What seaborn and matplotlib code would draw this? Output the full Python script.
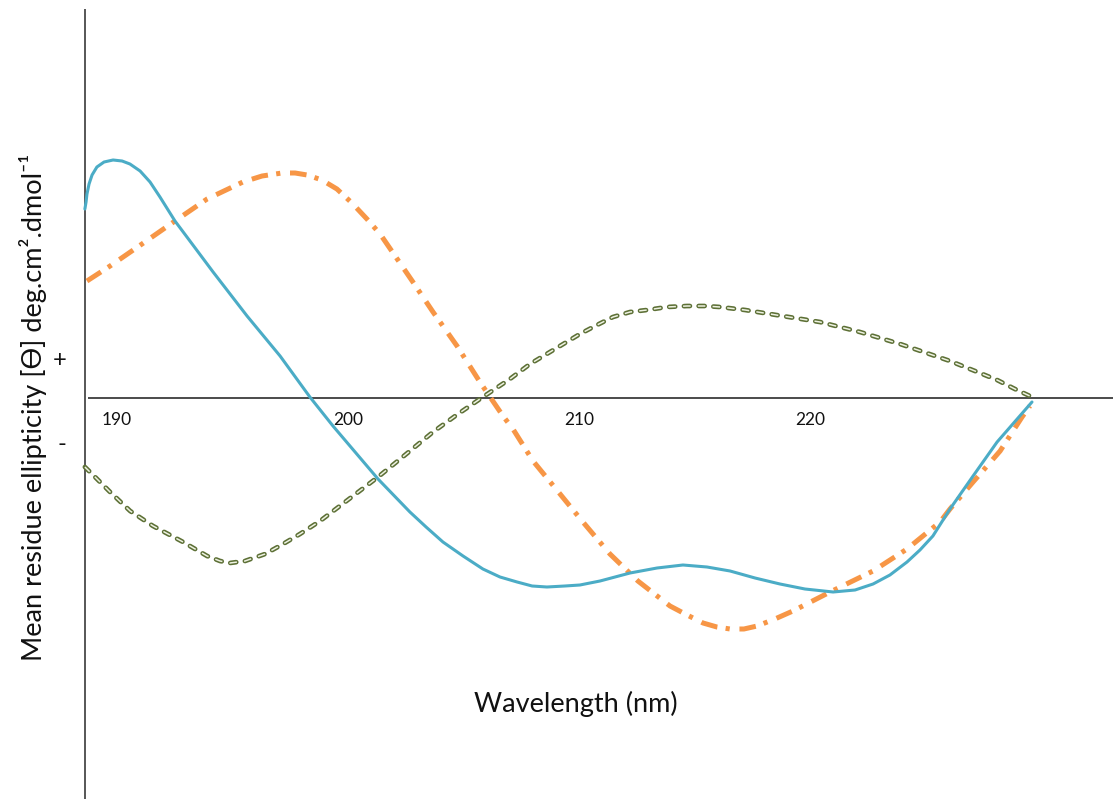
import matplotlib
matplotlib.use("Agg")
import matplotlib.pyplot as plt
import seaborn as sns
import pandas as pd

# ---- data (arbitrary ellipticity units) ----
blue_nm = [188.61, 188.66, 188.70, 188.79, 188.92, 189.13, 189.44, 189.83, 190.22,
           190.56, 191.00, 191.43, 191.86, 192.51, 194.16, 195.63, 197.06, 198.35,
           199.35, 201.30, 202.68, 203.38, 204.11, 204.98, 205.84, 206.58, 207.32,
           207.97, 208.61, 209.39, 210.04, 210.91, 212.21, 213.38, 214.50, 215.54,
           216.54, 217.62, 218.70, 219.78, 221.00, 221.95, 222.73, 223.46, 224.20,
           224.76, 225.32, 226.06, 227.06, 228.10, 229.61]
blue_val = [18.9, 19.6, 20.4, 21.4, 22.3, 23.1, 23.6, 23.8, 23.7,
            23.4, 22.7, 21.6, 20.1, 17.7, 12.6, 8.2, 4.2, 0.1,
            -2.8, -8.1, -11.4, -12.9, -14.4, -15.8, -17.1, -17.9, -18.4,
            -18.8, -18.9, -18.8, -18.7, -18.3, -17.5, -17.0, -16.7, -16.9,
            -17.3, -18.0, -18.6, -19.1, -19.4, -19.2, -18.6, -17.7, -16.4,
            -15.2, -13.8, -11.1, -7.8, -4.4, -0.4]

orange_nm = [188.70, 189.70, 191.08, 192.51, 193.90, 195.45, 196.28, 197.14, 197.71,
             198.23, 198.87, 199.52, 200.17, 200.82, 201.39, 202.81, 203.68, 204.72,
             205.71, 206.15, 206.71, 207.14, 208.01, 209.18, 210.17, 211.34, 212.55,
             213.94, 214.68, 215.37, 215.97, 216.54, 217.14, 217.71, 218.48, 219.26,
             220.87, 222.73, 224.20, 225.63, 226.06, 227.06, 228.23, 229.18, 229.52]
orange_val = [11.7, 13.2, 15.4, 17.7, 19.9, 21.6, 22.2, 22.5, 22.5,
              22.3, 21.8, 20.9, 19.5, 17.9, 16.4, 11.6, 8.6, 5.2,
              1.6, 0.1, -1.8, -3.1, -6.3, -9.6, -12.4, -15.6, -18.3,
              -20.8, -21.7, -22.5, -22.9, -23.1, -23.1, -22.8, -22.1, -21.3,
              -19.4, -17.3, -15.1, -12.4, -11.1, -8.4, -5.3, -1.9, -0.8]

green_nm = [188.61, 189.05, 189.70, 190.57, 191.56, 192.86, 193.90, 194.46, 194.89,
            195.54, 196.41, 197.19, 197.92, 198.79, 201.30, 202.47, 203.68, 204.76,
            205.84, 207.01, 207.88, 208.96, 210.04, 210.78, 211.47, 212.21, 212.94,
            213.81, 214.68, 215.45, 216.10, 217.19, 218.27, 219.35, 220.43, 222.16,
            223.90, 226.06, 227.14, 228.10, 228.87, 229.61]
green_val = [-6.9, -7.9, -9.4, -11.3, -12.8, -14.4, -15.8, -16.3, -16.5,
             -16.3, -15.6, -14.6, -13.6, -12.3, -7.9, -5.7, -3.4, -1.6,
             0.1, 1.9, 3.4, 4.9, 6.4, 7.3, 8.1, 8.6, 8.8,
             9.1, 9.2, 9.2, 9.1, 8.8, 8.4, 8.0, 7.6, 6.6,
             5.4, 3.7, 2.7, 1.8, 0.9, 0.1]

tick_nm = [190, 200, 210, 220]
tick_labels = ["190", "200", "210", "220"]

x_label = "Wavelength (nm)"
y_label = "Mean residue ellipticity [Ө] deg.cm².dmol⁻¹"

# ---- styling ----
sns.set_theme(style="white")
plt.rcParams["font.family"] = ["Lato", "DejaVu Sans"]
plt.rcParams["lines.scale_dashes"] = False

fig = plt.figure(figsize=(11.13, 8.03), dpi=100)
ax = fig.add_axes([0, 0, 1, 1])
ax.set_xlim(184.935, 233.117)
ax.set_ylim(-40.4, 39.9)
ax.axis("off")

# axes lines
ax.plot([188.61, 188.61], [38.9, -40.1], color="#3a3a3a", lw=1.2, solid_capstyle="butt")
ax.plot([188.74, 233.2], [0, 0], color="#1a1a1a", lw=1.1, solid_capstyle="butt")

df_b = pd.DataFrame({"nm": blue_nm, "val": blue_val})
df_o = pd.DataFrame({"nm": orange_nm, "val": orange_val})
df_g = pd.DataFrame({"nm": green_nm, "val": green_val})

# green compound dashed line: dark outline + light core
sns.lineplot(data=df_g, x="nm", y="val", ax=ax, sort=False, estimator=None,
             color="#5d7036", lw=3.4, dashes=False, legend=False)
ax.lines[-1].set_linestyle((0, (4.3, 6.3)))
ax.lines[-1].set_dash_capstyle("round")
sns.lineplot(data=df_g, x="nm", y="val", ax=ax, sort=False, estimator=None,
             color="#eef2e2", lw=1.1, dashes=False, legend=False)
ax.lines[-1].set_linestyle((0.6, (5.4, 5.2)))
ax.lines[-1].set_dash_capstyle("butt")

# orange dash-dot
sns.lineplot(data=df_o, x="nm", y="val", ax=ax, sort=False, estimator=None,
             color="#f79646", lw=3.6, dashes=False, legend=False)
ax.lines[-1].set_linestyle((0, (12, 6, 3, 7)))
ax.lines[-1].set_dash_capstyle("butt")

# blue solid
sns.lineplot(data=df_b, x="nm", y="val", ax=ax, sort=False, estimator=None,
             color="#4bacc6", lw=2.2, dashes=False, legend=False)
for ln in ax.lines:
    ln.set_solid_joinstyle("round")
    ln.set_dash_joinstyle("round")

# tick labels
for t, lab in zip(tick_nm, tick_labels):
    ax.text(t, -2.1, lab, ha="center", va="center", fontsize=12.5, color="#111111")

# + / - markers
fig.text(60 / 1113, 1 - 361 / 803, "+", ha="center", va="center", fontsize=17, color="#111111")
fig.text(62 / 1113, 1 - 445 / 803, "-", ha="center", va="center", fontsize=17, color="#111111")

# axis titles
fig.text(576 / 1113, 1 - 704 / 803, x_label, ha="center", va="center", fontsize=19.5, color="#111111")
fig.text(33 / 1113, 1 - 407 / 803, y_label, ha="center", va="center", rotation=90,
         fontsize=19.5, color="#111111")

fig.savefig("out.png", dpi=100)
